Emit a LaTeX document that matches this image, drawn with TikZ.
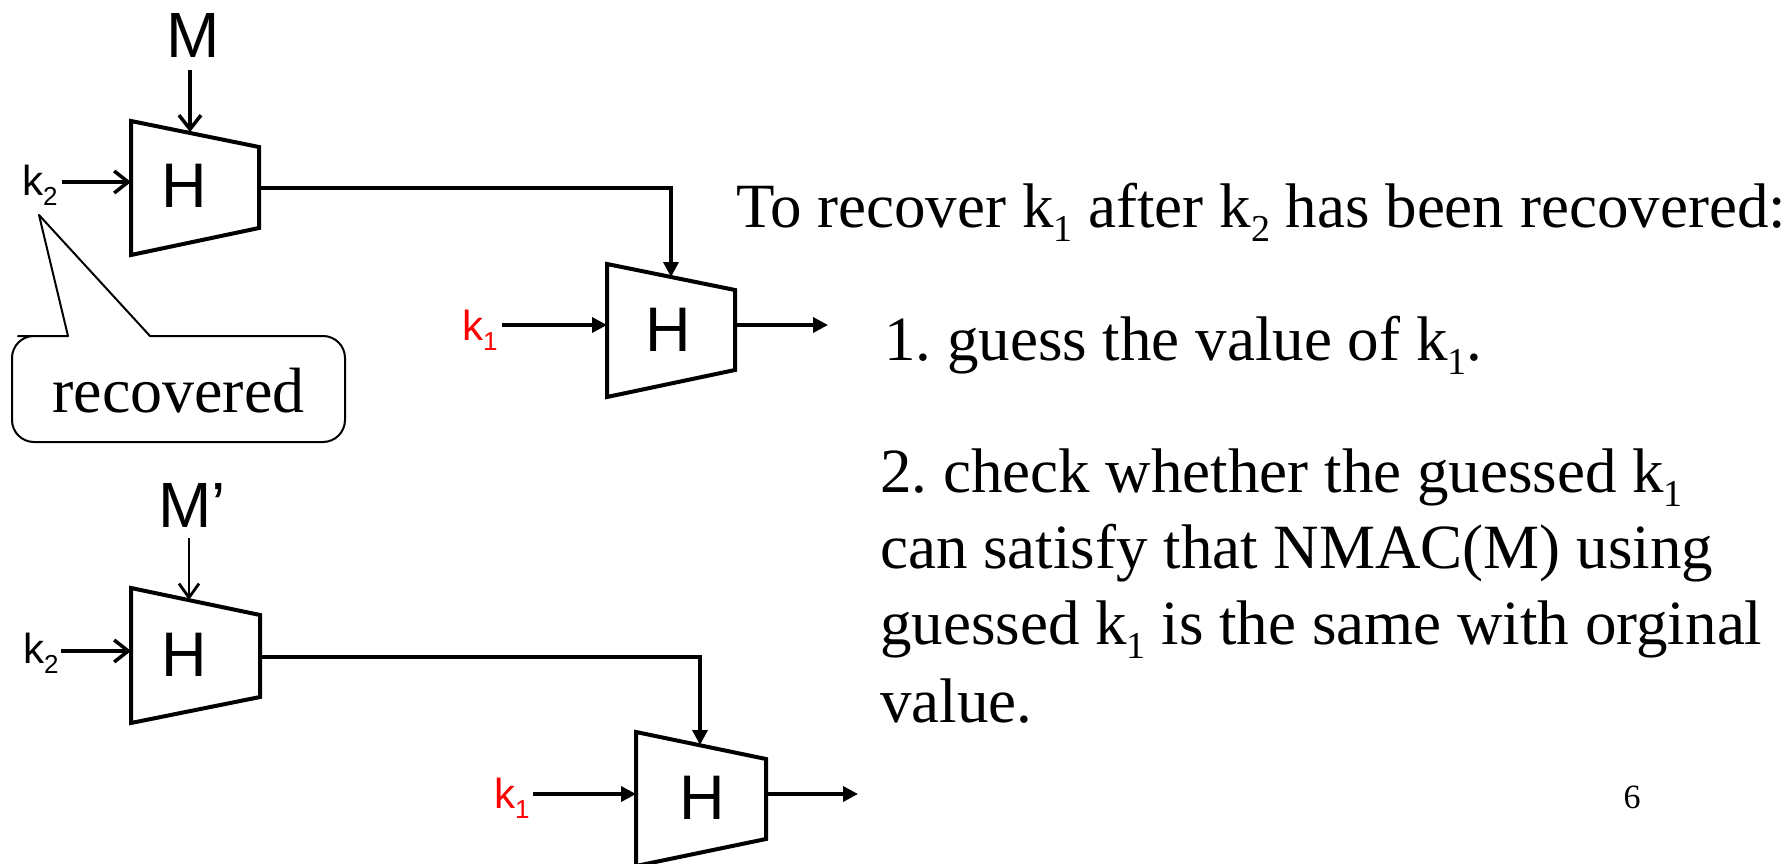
\documentclass[tikz,border=0pt]{standalone}
\usepackage{fontspec}
\setmainfont{Liberation Serif}
\newfontfamily\arialf{Liberation Sans}
\usetikzlibrary{arrows.meta}
\definecolor{kred}{RGB}{255,0,0}
\tikzset{
  trap/.style={line width=4pt, line join=miter},
  fat/.style={line width=3.5pt, -{Triangle[length=15pt,width=15pt]}},
  barb/.style={line width=3.5pt, -{Straight Barb[length=14pt,width=22pt]}},
  thinbarb/.style={line width=2.8pt, -{Straight Barb[length=14pt,width=20pt]}},
  bigsans/.style={inner sep=0pt, font=\arialf\fontsize{63}{63}\selectfont},
  klab/.style={inner sep=0pt, anchor=base west, font=\arialf\fontsize{42}{42}\selectfont},
  body/.style={inner sep=0pt, anchor=base west, font=\fontsize{63}{63}\selectfont},
  callout/.style={line width=2pt, line join=round},
}
\newcommand\asub[2]{#1\raisebox{-10pt}{\fontsize{26}{26}\selectfont #2}}
\newcommand\tsub[1]{\raisebox{-14pt}{\fontsize{38}{38}\selectfont #1}}
\frenchspacing
\begin{document}
\begin{tikzpicture}[x=1pt,y=-1pt]
\useasboundingbox (0,0) rectangle (1791,864);

% ---------- upper pair ----------
\draw[trap] (131,121) -- (259,147) -- (259,228) -- (131,255) -- cycle;
\node[bigsans] (h1) at (184,186) {H};
\draw[trap] (607,264) -- (735,290) -- (735,370) -- (607,397) -- cycle;
\node[bigsans] (h2) at (668,330) {H};

\node[bigsans, font=\arialf\fontsize{64}{64}\selectfont] (m1) at (193,35) {M};
\coordinate (m1s) at (190,70);
\coordinate (m1e) at (190,132);
\draw[barb] (m1s) -- (m1e);

\node[klab] (k2a) at (22,195) {\asub{k}{2}};
\coordinate (k2as) at (62,182);
\coordinate (k2ae) at (131,182);
\draw[barb] (k2as) -- (k2ae);

\coordinate (h1o) at (259,188);
\coordinate (h1c) at (671,188);
\coordinate (h2i) at (671,277);
\draw[fat] (h1o) -- (h1c) -- (h2i);

\node[klab, text=kred] (k1a) at (462,340) {\asub{k}{1}};
\coordinate (k1as) at (502,325);
\coordinate (k1ae) at (607,325);
\draw[fat] (k1as) -- (k1ae);

\coordinate (h2o) at (735,325);
\coordinate (h2out) at (828,325);
\draw[fat] (h2o) -- (h2out);

% callout
\draw[callout] (39,215) -- (150,336) -- (200,336)
  [rounded corners=22pt] -- (345,336) -- (345,442) -- (12,442) -- (12,336) -- (40,336)
  [sharp corners] -- (68,336) -- cycle;
\node[inner sep=0pt, anchor=base, font=\fontsize{64}{64}\selectfont] (rec) at (178.5,412) {recovered};

% ---------- lower pair ----------
\draw[trap] (131,588) -- (260,615) -- (260,697) -- (131,723) -- cycle;
\node[bigsans] (h3) at (184,655) {H};
\draw[trap] (636,732) -- (766,759) -- (766,839) -- (636,866) -- cycle;
\node[bigsans] (h4) at (702,798) {H};

\node[bigsans, font=\arialf\fontsize{64}{64}\selectfont] (m2) at (192,505) {M’};
\coordinate (m2s) at (189,538);
\coordinate (m2e) at (189,600);
\draw[thinbarb] (m2s) -- (m2e);

\node[klab] (k2b) at (23,663) {\asub{k}{2}};
\coordinate (k2bs) at (61,651);
\coordinate (k2be) at (131,651);
\draw[barb] (k2bs) -- (k2be);

\coordinate (h3o) at (260,657);
\coordinate (h3c) at (700,657);
\coordinate (h4i) at (700,745);
\draw[fat] (h3o) -- (h3c) -- (h4i);

\node[klab, text=kred] (k1b) at (494,808) {\asub{k}{1}};
\coordinate (k1bs) at (533,794);
\coordinate (k1be) at (636,794);
\draw[fat] (k1bs) -- (k1be);

\coordinate (h4o) at (766,794);
\coordinate (h4out) at (858,794);
\draw[fat] (h4o) -- (h4out);

% ---------- text ----------
\node[body] (t0) at (736,227) {To recover k\tsub{1} after k\tsub{2} has been recovered:};
\node[body] (t1) at (884,360) {1. guess the value of k\tsub{1}.};
\node[body] (t2) at (880,492) {2. check whether the guessed k\tsub{1}};
\node[body] (t3) at (880,568) {can satisfy that NMAC(M) using};
\node[body] (t4) at (880,644) {guessed k\tsub{1} is the same with orginal};
\node[body] (t5) at (880,722) {value.};
\node[inner sep=0pt, font=\fontsize{34}{34}\selectfont] (pg) at (1632,797) {6};
\end{tikzpicture}
\end{document}
